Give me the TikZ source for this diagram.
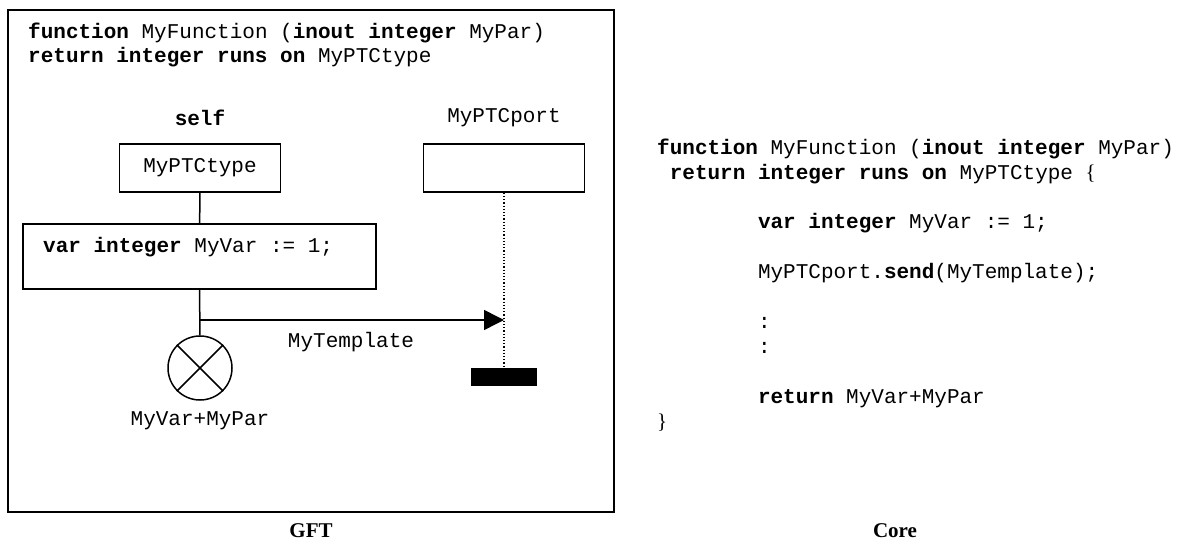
\documentclass[tikz,border=0pt]{standalone}
\usepackage{fontspec}
\setmainfont{Liberation Serif}
\setmonofont{Liberation Mono}
\usetikzlibrary{arrows.meta,positioning}
\newcommand\codeind{\hspace*{4.8em}}
\tikzset{
  ln/.style={line width=1.5pt,black},
  inst/.style={draw,line width=1.5pt,minimum width=161pt,minimum height=48pt,inner sep=0pt,font=\ttfamily\fontsize{21}{25}\selectfont},
  msg/.style={-{Triangle[length=20pt,width=20pt]},line width=1.5pt},
  code/.style={font=\ttfamily\fontsize{21}{24.9}\selectfont,inner sep=0pt,align=left},
  lbl/.style={font=\bfseries\fontsize{21}{25}\selectfont,inner sep=0pt}
}

\begin{document}
\begin{tikzpicture}[x=1pt,y=-1pt]
\useasboundingbox (0,0) rectangle (1179,548);
\draw[ln] (8,10) rectangle (614,512);
\node[code,anchor=base west] (head) at (28,63) {\textbf{function} MyFunction (\textbf{inout integer} MyPar)\\\textbf{return integer runs on} MyPTCtype};
\node[code] (self) at (200,118) {\textbf{self}};
\node[code] (portlbl) at (504,118) {MyPTCport};
\node[inst] (ptc) at (200,168) {MyPTCtype};
\node[inst] (port) at (504,168) {};
\node[draw,ln,minimum width=353pt,minimum height=65pt,inner sep=0pt] (var) at (199.5,256.5) {};
\node[code,anchor=west] (vartxt) at (43,247) {\textbf{var integer} MyVar := 1;};
\node[draw,ln,circle,minimum size=64pt,inner sep=0pt] (ret) at (200,368) {};
\draw[ln] (ret.north west) -- (ret.south east) (ret.north east) -- (ret.south west);
\node[code] (retval) at (200,421) {MyVar+MyPar};
\node[fill,minimum width=66pt,minimum height=18pt,inner sep=0pt] (stop) at (504,376.5) {};
\draw[ln] (ptc) -- (var);
\draw[ln] (var) -- (ret);
\draw[dotted,line width=1.2pt] (port) -- (stop);
\coordinate (snd) at (200,320);
\coordinate (rcv) at (504,320);
\draw[msg] (snd) -- (rcv);
\node[code] (tmpl) at (351,342) {MyTemplate};
\node[code,anchor=base west] (core) at (657,428) {\textbf{function} MyFunction (\textbf{inout integer} MyPar)\\
\hspace*{0.6em}\textbf{return integer runs on} MyPTCtype {\rmfamily\{}\\[24.9pt]
\codeind\textbf{var integer} MyVar := 1;\\[24.9pt]
\codeind MyPTCport.\textbf{send}(MyTemplate);\\[24.9pt]
\codeind :\\
\codeind :\\[24.9pt]
\codeind\textbf{return} MyVar+MyPar\\
{\rmfamily\}}};
\node[lbl] (gft) at (311,531) {GFT};
\node[lbl] (corelbl) at (895,531) {Core};
\end{tikzpicture}
\end{document}
